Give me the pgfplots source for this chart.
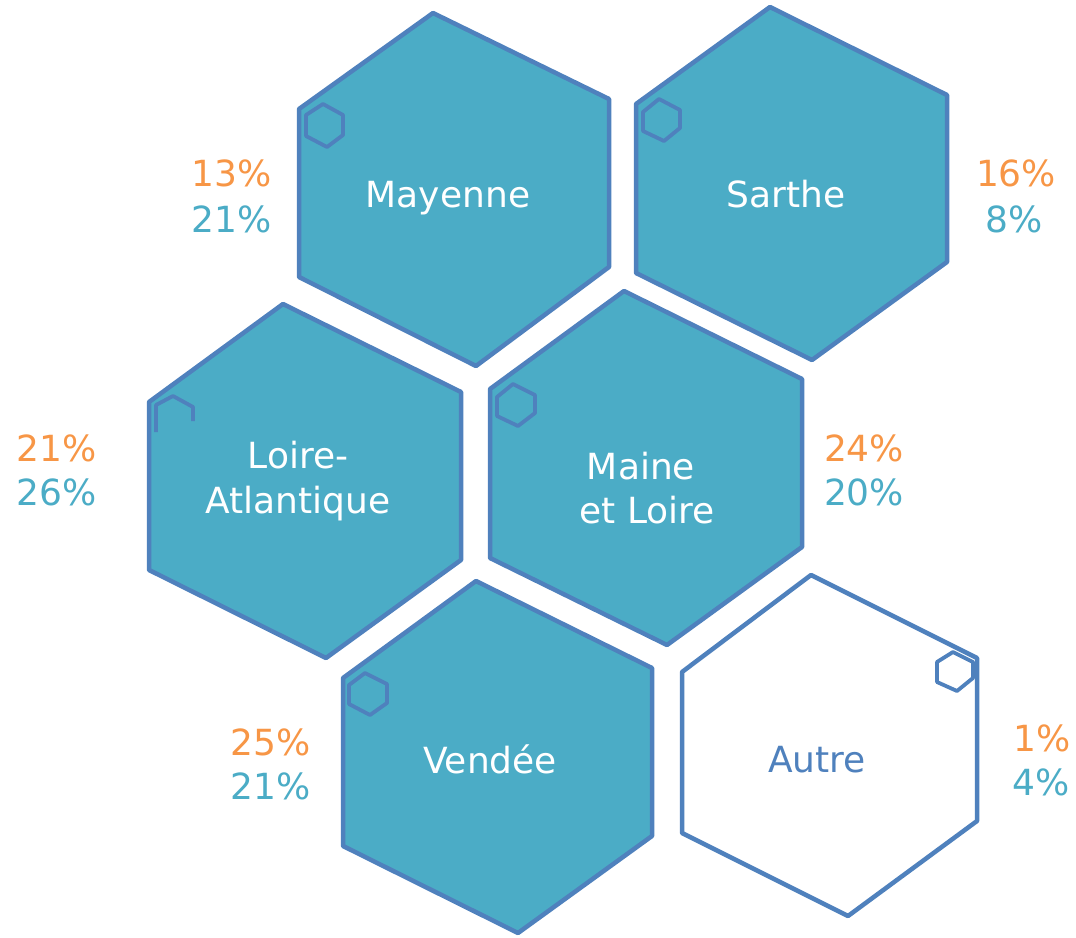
\documentclass[border=0pt]{standalone}
\usepackage{pgfplots}
\pgfplotsset{compat=1.18}
\usepackage{fontspec}
\setmainfont{DejaVu Sans}
\definecolor{hexfill}{HTML}{4BACC6}
\definecolor{hexline}{HTML}{4F81BD}
\definecolor{pcorange}{HTML}{F79646}
\begin{document}
\begin{tikzpicture}
\begin{axis}[
  width=1076pt, height=937pt, scale only axis,
  xmin=0, xmax=1076, ymin=0, ymax=937, y dir=reverse,
  hide axis, clip=false,
]
% big hexagons
\addplot[fill=hexfill, draw=hexline, line width=4.5pt, line join=round] coordinates {(433,13) (609,99) (609,267) (476,366) (299,277) (299,109)} --cycle;
\addplot[fill=hexfill, draw=hexline, line width=4.5pt, line join=round] coordinates {(770,7) (947,95) (947,262) (812,360) (636,273) (636,104)} --cycle;
\addplot[fill=hexfill, draw=hexline, line width=4.5pt, line join=round] coordinates {(283,304) (461,392) (461,560) (326,658) (149,570) (149,402)} --cycle;
\addplot[fill=hexfill, draw=hexline, line width=4.5pt, line join=round] coordinates {(624,291) (802,379) (802,547) (667,645) (490,558) (490,389)} --cycle;
\addplot[fill=hexfill, draw=hexline, line width=4.5pt, line join=round] coordinates {(476,581) (652,668) (652,836) (518,933) (343,846) (343,678)} --cycle;
\addplot[fill=white, draw=hexline, line width=4.5pt, line join=round] coordinates {(811,575) (977,658) (977,821) (848,916) (682,833) (682,672)} --cycle;
% small hexagons
\addplot[draw=hexline, line width=3.8pt, line join=round] coordinates {(323,104) (343,115) (343,135) (327,147) (306,136) (306,115)} --cycle;
\addplot[draw=hexline, line width=3.8pt, line join=round] coordinates {(659,99) (680,110) (680,128) (664,141) (643,131) (643,112)} --cycle;
\addplot[draw=hexline, line width=3.8pt, line join=round] coordinates {(156,432) (156,405) (173,396) (193,407) (193,421)};
\addplot[draw=hexline, line width=3.8pt, line join=round] coordinates {(513,384) (535,395) (535,413) (518,426) (497,416) (497,397)} --cycle;
\addplot[draw=hexline, line width=3.8pt, line join=round] coordinates {(365,673) (387,684) (387,703) (370,715) (349,704) (349,685)} --cycle;
\addplot[draw=hexline, line width=3.8pt, line join=round] coordinates {(953,652) (973,662) (973,678) (957,691) (937,682) (937,662)} --cycle;
% names
\begin{scope}[every node/.style={font=\fontsize{36}{43}\selectfont, anchor=base, inner sep=0pt}]
\node[text=white] at (axis cs:448,207) {Mayenne};
\node[text=white] at (axis cs:786,207) {Sarthe};
\node[text=white] at (axis cs:298,468) {Loire-};
\node[text=white] at (axis cs:298,513) {Atlantique};
\node[text=white] at (axis cs:641,479) {Maine};
\node[text=white] at (axis cs:647,523) {et Loire};
\node[text=white] at (axis cs:490,773) {Vendée};
\node[text=hexline] at (axis cs:817,772) {Autre};
% percentages
\node[text=pcorange] at (axis cs:232,186) {13\%};
\node[text=hexfill] at (axis cs:232,232) {21\%};
\node[text=pcorange] at (axis cs:1016,186) {16\%};
\node[text=hexfill] at (axis cs:1014,232) {8\%};
\node[text=pcorange] at (axis cs:57,461) {21\%};
\node[text=hexfill] at (axis cs:57,505) {26\%};
\node[text=pcorange] at (axis cs:864,461) {24\%};
\node[text=hexfill] at (axis cs:864,505) {20\%};
\node[text=pcorange] at (axis cs:271,755) {25\%};
\node[text=hexfill] at (axis cs:271,799) {21\%};
\node[text=pcorange] at (axis cs:1042,751) {1\%};
\node[text=hexfill] at (axis cs:1041,795) {4\%};
\end{scope}
\end{axis}
\pgfresetboundingbox
\path (current axis.south west) rectangle (current axis.north east);
\end{tikzpicture}
\end{document}
